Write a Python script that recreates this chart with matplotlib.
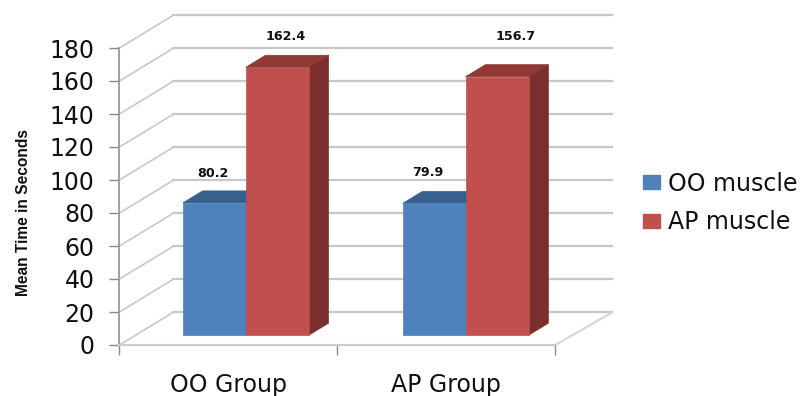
import matplotlib
matplotlib.use("Agg")
import matplotlib.pyplot as plt
from matplotlib.patches import Patch, Polygon

groups = ["OO Group", "AP Group"]
series_names = ["OO muscle", "AP muscle"]
oo_values = [80.2, 79.9]
ap_values = [162.4, 156.7]
y_ticks = list(range(0, 181, 20))

group_pos = [0.506, 1.515]
bar_width = 0.289
depth_x = 0.245     # full floor depth, in category units
depth_y = 19.7      # full floor depth, in value units
bar_start = 0.30    # bars stand this far back on the floor
bar_depth = 0.37

# offsets of the value labels from the bar top, in points
label_offsets = [[(-1, 21), (6, 22.5)], [(-4.6, 22), (13, 29)]]

face_cols = ["#4F81BD", "#C0504D"]
top_cols = ["#38608F", "#8F3835"]
side_cols = ["#2F5078", "#7B2F2D"]
grid_col = "#C8C8C8"


def sheared(x, y, d):
    return (x + d * depth_x, y + d * depth_y)


def draw_bar(ax, left, value, i):
    right = left + bar_width
    d0, d1 = bar_start, bar_start + bar_depth
    front = [sheared(left, 0, d0), sheared(right, 0, d0),
             sheared(right, value, d0), sheared(left, value, d0)]
    top = [sheared(left, value, d0), sheared(right, value, d0),
           sheared(right, value, d1), sheared(left, value, d1)]
    side = [sheared(right, 0, d0), sheared(right, 0, d1),
            sheared(right, value, d1), sheared(right, value, d0)]
    for pts, col in [(side, side_cols[i]), (top, top_cols[i]), (front, face_cols[i])]:
        ax.add_patch(Polygon(pts, closed=True, fc=col, ec=col, lw=0.5,
                             clip_on=False, zorder=3))


fig = plt.figure(figsize=(8.02, 3.96), dpi=100)
ax = fig.add_axes([119.5 / 802, (396 - 345) / 396, 435.8 / 802, 297 / 396])
ax.set_xlim(0, 2)
ax.set_ylim(0, 180)
ax.patch.set_visible(False)

# back wall and left wall gridlines
for v in y_ticks:
    ax.plot([0, depth_x], [v, v + depth_y], color=grid_col, lw=1.2,
            clip_on=False, zorder=1)
    ax.plot([depth_x, 2 + depth_x + 0.015], [v + depth_y, v + depth_y],
            color=grid_col, lw=1.6, clip_on=False, zorder=1)

# floor, right edge and front edge
ax.plot([2, 2 + depth_x + 0.015], [0, depth_y], color="#D8D8D8", lw=1.6,
        clip_on=False, zorder=1)

for g, pos in enumerate(group_pos):
    draw_bar(ax, pos - bar_width, oo_values[g], 0)
    draw_bar(ax, pos, ap_values[g], 1)

    for i, value in enumerate([oo_values[g], ap_values[g]]):
        cx = pos + (i - 1) * bar_width + bar_width / 2
        sx, sy = sheared(cx, value, bar_start)
        ax.annotate(f"{value:.1f}", xy=(sx, sy), xytext=label_offsets[g][i],
                    textcoords="offset points", ha="center", va="center",
                    fontsize=9.2, fontweight="bold", color="#111111",
                    annotation_clip=False, zorder=4)

for name in ["top", "right"]:
    ax.spines[name].set_visible(False)
ax.spines["left"].set_color("#9A9A9A")
ax.spines["left"].set_linewidth(1.3)
ax.spines["bottom"].set_color("#CCCCCC")
ax.spines["bottom"].set_linewidth(1.6)

ax.set_yticks(y_ticks)
ax.set_xticks([0, 1, 2])
ax.set_xticklabels([])
ax.set_xticks([0.5, 1.5], labels=groups, minor=True)
ax.tick_params(axis="y", length=7, width=1, color="#8A8A8A", labelsize=17,
               pad=11, labelcolor="#111111")
ax.tick_params(axis="x", which="major", length=7, width=1, color="#8A8A8A")
ax.tick_params(axis="x", which="minor", length=0, labelsize=17, pad=20,
               labelcolor="#111111")

fig.text(24 / 802, 1 - 213 / 396, "Mean Time in Seconds", rotation=90, ha="center",
         va="center", fontsize=11.2, fontweight="bold", color="#111111",
         family=["Liberation Sans Narrow", "Liberation Sans"])

handles = [Patch(fc=c, ec=c) for c in face_cols]
fig.legend(handles, series_names, loc="center left",
           bbox_to_anchor=(643 / 802, 1 - 203 / 396), frameon=False, fontsize=17,
           borderaxespad=0, borderpad=0, handlelength=0.72, handleheight=0.55,
           handletextpad=0.36, labelspacing=0.62, labelcolor="#111111")

fig.savefig("out.png", dpi=100)
